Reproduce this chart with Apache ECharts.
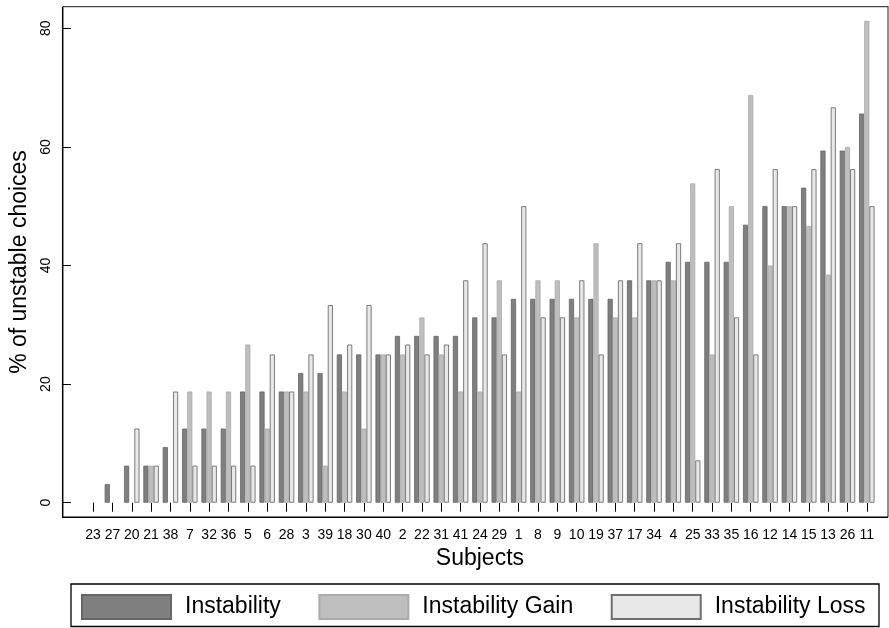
<!DOCTYPE html>
<html>
<head>
<meta charset="utf-8">
<script src="https://cdn.jsdelivr.net/npm/echarts@6/dist/echarts.min.js"></script>
<style>
html,body{margin:0;padding:0;background:#fff;}
#chart{width:889px;height:628px;}
</style>
</head>
<body>
<div id="chart"></div>
<script>
const subjects = ['23','27','20','21','38','7','32','36','5','6','28','3','39','18','30','40','2','22','31','41','24','29','1','8','9','10','19','37','17','34','4','25','33','35','16','12','14','15','13','26','11'];
const instability = [0,3.125,6.25,6.25,9.375,12.5,12.5,12.5,18.75,18.75,18.75,21.875,21.875,25,25,25,28.125,28.125,28.125,28.125,31.25,31.25,34.375,34.375,34.375,34.375,34.375,34.375,37.5,37.5,40.625,40.625,40.625,40.625,46.875,50,50,53.125,59.375,59.375,65.625];
const instabilityGain = [0,0,0,6.25,0,18.75,18.75,18.75,26.67,12.5,18.75,18.75,6.25,18.75,12.5,25,25,31.25,25,18.75,18.75,37.5,18.75,37.5,37.5,31.25,43.75,31.25,31.25,37.5,37.5,53.85,25,50,68.75,40,50,46.67,38.46,60,81.25];
const instabilityLoss = [0,0,12.5,6.25,18.75,6.25,6.25,6.25,6.25,25,18.75,25,33.33,26.67,33.33,25,26.67,25,26.67,37.5,43.75,25,50,31.25,31.25,37.5,25,37.5,43.75,37.5,43.75,7.14,56.25,31.25,25,56.25,50,56.25,66.67,56.25,50];
const yTicks = [0,20,40,60,80];
const seriesNames = ['Instability','Instability Gain','Instability Loss'];

const FONT = '"Liberation Sans", Arial, Helvetica, sans-serif';
const chart = echarts.init(document.getElementById('chart'), null, {renderer:'canvas'});

const F = {left:62.7, top:6.7, right:888, bottom:517.3};
const LB = {left:71, top:584, right:879, bottom:626.5};

// zero-height bars get no outline so they stay invisible, as in the original
function barData(arr){
  return arr.map(v => v === 0 ? {value:v, itemStyle:{borderWidth:0}} : v);
}

chart.setOption({
  animation:false,
  backgroundColor:'#ffffff',
  textStyle:{fontFamily:FONT},
  grid:{left:75.23, right:12.53, top:F.top, bottom:628-F.bottom, containLabel:false},
  legend:{
    show:true,
    left:81, top:594,
    itemWidth:89, itemHeight:24,
    itemGap:37.5,
    icon:'rect',
    padding:0,
    textStyle:{fontFamily:FONT, fontSize:23, color:'#000', padding:[0,0,0,9]},
    data:seriesNames
  },
  xAxis:{
    type:'category',
    data:subjects,
    boundaryGap:true,
    axisLine:{show:false},
    axisTick:{show:true, alignWithLabel:true, length:9, lineStyle:{color:'#000', width:1}},
    axisLabel:{interval:0, fontFamily:FONT, fontSize:14, color:'#000', margin:11},
    name:'Subjects',
    nameLocation:'middle',
    nameGap:29,
    nameTextStyle:{fontFamily:FONT, fontSize:23, color:'#000'}
  },
  yAxis:{
    type:'value',
    min:-2.46, max:83.64,
    offset:12.5,
    splitLine:{show:false},
    axisLine:{show:false},
    axisTick:{show:true, length:9, customValues:yTicks, lineStyle:{color:'#000'}},
    axisLabel:{rotate:90, fontFamily:FONT, fontSize:14, color:'#000', margin:18, customValues:yTicks},
    name:'% of unstable choices',
    nameLocation:'middle',
    nameRotate:90,
    nameGap:32,
    nameTextStyle:{fontFamily:FONT, fontSize:23, color:'#000'}
  },
  series:[
    {name:seriesNames[0], type:'bar', data:barData(instability), barGap:'0%', barCategoryGap:'20%',
     itemStyle:{color:'#7f7f7f', borderColor:'#666666', borderWidth:0.8}},
    {name:seriesNames[1], type:'bar', data:barData(instabilityGain), barGap:'0%', barCategoryGap:'20%',
     itemStyle:{color:'#bebebe', borderColor:'#ababab', borderWidth:0.8}},
    {name:seriesNames[2], type:'bar', data:barData(instabilityLoss), barGap:'0%', barCategoryGap:'20%',
     itemStyle:{color:'#e8e8e8', borderColor:'#6e6e6e', borderWidth:0.9}}
  ],
  graphic:[
    {type:'polyline', silent:true, z:100,
     shape:{points:[[F.left, F.top],[F.right, F.top],[F.right, F.bottom]]},
     style:{fill:'none', stroke:'#444', lineWidth:1.2}},
    {type:'polyline', silent:true, z:101,
     shape:{points:[[F.left, F.top],[F.left, F.bottom],[F.right, F.bottom]]},
     style:{fill:'none', stroke:'#000', lineWidth:1.5}},
    {type:'rect', silent:true, z:100,
     shape:{x:LB.left, y:LB.top, width:LB.right-LB.left, height:LB.bottom-LB.top},
     style:{fill:'none', stroke:'#000', lineWidth:1.3}}
  ]
});
</script>
</body>
</html>
